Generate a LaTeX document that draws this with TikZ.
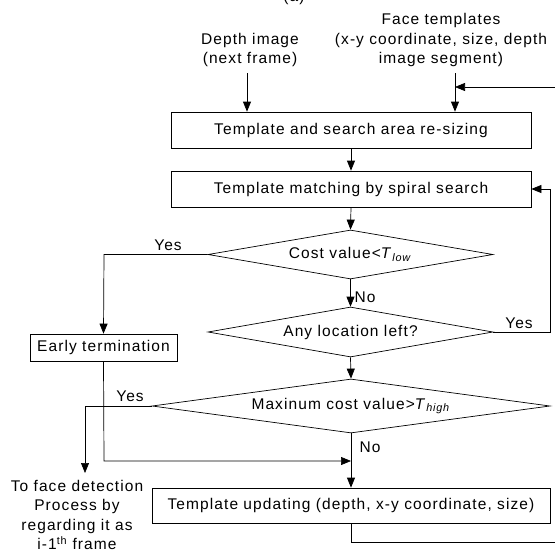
\documentclass[tikz,border=0pt]{standalone}
\usepackage{fontspec}
\setmainfont{Liberation Sans}[LetterSpace=7]
\usetikzlibrary{arrows.meta,shapes.geometric}
\begin{document}
\begin{tikzpicture}[x=1pt,y=-1pt,
  every node/.style={font=\fontsize{15.5}{19.5}\selectfont, inner sep=0pt},
  box/.style={draw, line width=0.7pt, anchor=center},
  dia/.style={draw, diamond, line width=0.7pt, anchor=center},
  lab/.style={align=center},
  conn/.style={line width=0.7pt},
  arr/.style={line width=0.7pt, -{Triangle[length=10pt,width=8pt]}},
  yn/.style={anchor=base}]
\useasboundingbox (0,0) rectangle (555,552);
% partially visible caption
\node[yn] (cap) at (294,1) {(a)};
% inputs
\node[lab] (depth) at (250,50) {Depth image\\(next frame)};
\node[lab] (face) at (441,40) {Face templates\\(x-y coordinate, size, depth\\image segment)};
\coordinate (dtop) at (247,73);
\coordinate (ftop) at (455,73);
% boxes
\node[box, minimum width=360pt, minimum height=36pt] (b1) at (351,130) {Template and search area re-sizing};
\node[box, minimum width=360pt, minimum height=36pt] (b2) at (351,189) {Template matching by spiral search};
\node[dia, minimum width=285pt, minimum height=49pt, aspect=5.8] (d1) at (350.5,254.5) {Cost value<\textit{T}\textsubscript{\textit{low}}};
\node[dia, minimum width=285pt, minimum height=50pt, aspect=5.8] (d2) at (350.5,332) {Any location left?};
\node[dia, minimum width=398pt, minimum height=54pt, aspect=7.3] (d3) at (351,406) {Maxinum cost value>\textit{T}\textsubscript{\textit{high}}};
\node[box, minimum width=147pt, minimum height=27pt] (early) at (103.5,347.5) {Early termination};
\node[box, minimum width=398pt, minimum height=35pt] (b4) at (351,505.5) {Template updating (depth, x-y coordinate, size)};
\node[lab] (tofd) at (77,515) {To face detection\\Process by\\regarding it as\\i-1\textsuperscript{th} frame};
% free-end coordinates
\coordinate (fbin) at (555,87);
\coordinate (fbat) at (455,87);
\coordinate (c1) at (104,254.5);
\coordinate (c2) at (550,332);
\coordinate (c3) at (550,189);
\coordinate (c4) at (85,406);
\coordinate (c5) at (85,473);
\coordinate (c6) at (104,461);
\coordinate (c7) at (351,461);
\coordinate (c8) at (351,542);
\coordinate (c9) at (555,542);
% connectors
\draw[arr] (dtop) -- (dtop |- b1.north);
\draw[arr] (ftop) -- (ftop |- b1.north);
\draw[arr] (fbin) -- (fbat);
\draw[arr] (b1.south) -- (b2.north);
\draw[arr] (b2.south) -- (d1.north);
\draw[arr] (d1.south) -- (d2.north);
\draw[arr] (d1.west) -- (c1) -- (early.north);
\draw[arr] (d2.east) -- (c2) -- (c3) -- (b2.east);
\draw[arr] (d2.south) -- (d3.north);
\draw[arr] (d3.west) -- (c4) -- (c5);
\draw[arr] (early.south) -- (c6) -- (c7);
\draw[arr] (d3.south) -- (b4.north);
\draw[conn] (b4.south) -- (c8) -- (c9);
% labels
\node[yn] (y1) at (168,250) {Yes};
\node[yn] (n1) at (365,302) {No};
\node[yn] (y2) at (519,328) {Yes};
\node[yn] (y3) at (130,401) {Yes};
\node[yn] (n2) at (370,452) {No};
\end{tikzpicture}
\end{document}
